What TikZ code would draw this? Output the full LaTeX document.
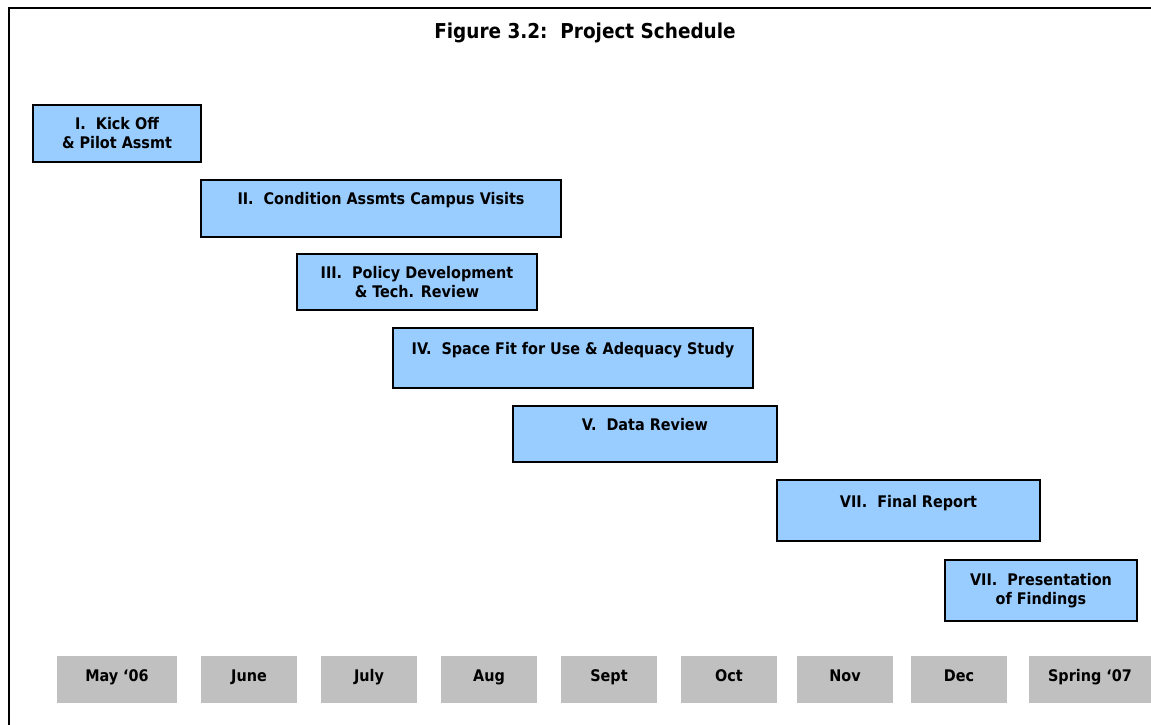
\documentclass[tikz,border=0pt]{standalone}
\usepackage{fontspec}
\setmainfont{DejaVu Sans Condensed}
\tikzset{
  task/.style={draw=black, line width=2pt, fill=taskblue, inner sep=0pt, align=center,
    font=\bfseries\fontsize{16}{19}\selectfont},
  month/.style={fill=monthgray, inner sep=0pt, minimum height=47pt,
    text height=12pt, text depth=9pt,
    font=\bfseries\fontsize{16}{19}\selectfont},
  frame/.style={line width=2.6pt}
}
\definecolor{taskblue}{HTML}{99CCFF}
\definecolor{monthgray}{HTML}{C0C0C0}
\begin{document}
\begin{tikzpicture}[x=1pt,y=-1pt]
\useasboundingbox (0,0) rectangle (1151,725);
\coordinate (fa) at (1151,8);
\coordinate (fb) at (9,8);
\coordinate (fc) at (9,725);
\draw[frame] (fa) -- (fb) -- (fc);
\node[font=\bfseries\fontsize{20.5}{22}\selectfont] (title) at (585,33) {Figure 3.2:\ \ Project Schedule};
% tasks
\node[task, minimum width=168pt, minimum height=57pt] (t1) at (117,133.5) {I.\ \ Kick Off\\ \& Pilot Assmt};
\node[task, minimum width=360pt, minimum height=57pt] (t2) at (381,208) {II.\ \ Condition Assmts Campus Visits\\ \mbox{}};
\node[task, minimum width=240pt, minimum height=56pt] (t3) at (417,282) {III.\ \ Policy Development\\ \& Tech. Review};
\node[task, minimum width=360pt, minimum height=60pt] (t4) at (573,358) {IV.\ \ Space Fit for Use \& Adequacy Study\\ \mbox{}};
\node[task, minimum width=264pt, minimum height=56pt] (t5) at (645,434) {V.\ \ Data Review\\ \mbox{}};
\node[task, minimum width=263pt, minimum height=61pt] (t6) at (908.5,510.5) {VII.\ \ Final Report\\ \mbox{}};
\node[task, minimum width=192pt, minimum height=61pt] (t7) at (1041,590.5) {VII.\ \ Presentation\\ of Findings};
% months
\node[month, minimum width=120pt] (m1) at (117,679.5) {May ‘06};
\node[month, minimum width=96pt] (m2) at (249,679.5) {June};
\node[month, minimum width=96pt] (m3) at (369,679.5) {July};
\node[month, minimum width=96pt] (m4) at (489,679.5) {Aug};
\node[month, minimum width=96pt] (m5) at (609,679.5) {Sept};
\node[month, minimum width=96pt] (m6) at (729,679.5) {Oct};
\node[month, minimum width=96pt] (m7) at (845,679.5) {Nov};
\node[month, minimum width=96pt] (m8) at (959,679.5) {Dec};
\node[month, minimum width=122pt] (m9) at (1090,679.5) {Spring ‘07};
\end{tikzpicture}
\end{document}
